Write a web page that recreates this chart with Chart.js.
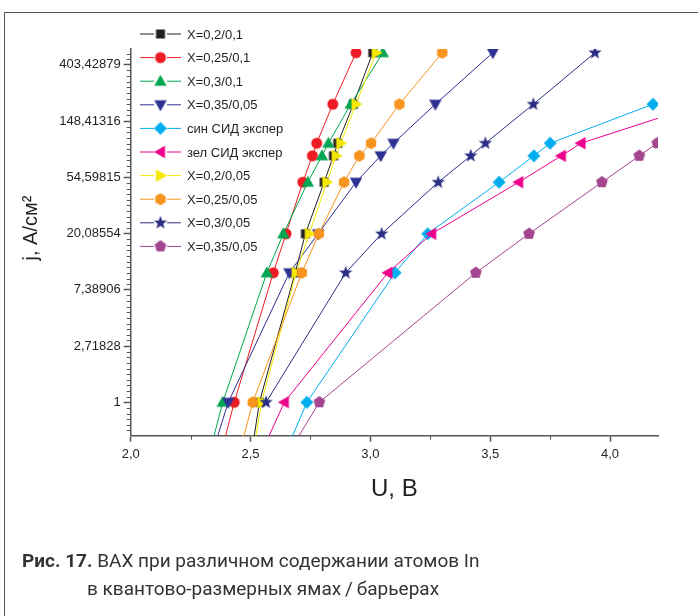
<!DOCTYPE html>
<html>
<head>
<meta charset="utf-8">
<script src="https://cdn.jsdelivr.net/npm/chart.js@4.4.1/dist/chart.umd.min.js"></script>
<style>
    html, body { margin: 0; padding: 0; background: #fff; }
    #wrap { position: relative; width: 698px; height: 616px; overflow: hidden; }
    #frame { position: absolute; left: 4px; top: 12px; width: 720px; height: 720px; border-left: 1px solid #555; border-top: 1px solid #555; }
    #chartCanvas { position: absolute; left: 0; top: 0; }
    .caption { position: absolute; font-family: 'Liberation Sans Narrow', 'Roboto', sans-serif; font-size: 19px; color: #333; white-space: nowrap; }
</style>
</head>
<body>
<div id="wrap">
    <div id="frame"></div>
    <canvas id="chartCanvas" width="698" height="616"></canvas>
    <div class="caption" style="left:22px; top:549px;"><b>Рис. 17.</b> ВАХ при различном содержании атомов In</div>
    <div class="caption" style="left:87px; top:577px;">в квантово-размерных ямах&#8201;/&#8201;барьерах</div>
</div>
<script>
// j, A/cm2 levels
const jLevels = [0.5, 1, 10, 20, 50, 80, 100, 200, 500];
const jLevelsSin = [0.5, 1, 10, 20, 50, 80, 100, 200];
const jLevelsStar = [1, 10, 20, 50, 80, 100, 200, 500];
const jLevelsZel = [0.5, 1, 10, 20, 50, 80, 100, 200];
const jLevelsPurple = [0.5, 1, 10, 20, 50, 80, 100, 200];

// U, B for each series
const u02_01 = [2.512, 2.537, 2.686, 2.729, 2.807, 2.846, 2.864, 2.929, 3.010];
const u025_01 = [2.390, 2.432, 2.595, 2.648, 2.718, 2.758, 2.776, 2.843, 2.940];
const u03_01 = [2.342, 2.384, 2.568, 2.637, 2.739, 2.798, 2.825, 2.918, 3.052];
const u035_005a = [2.356, 2.407, 2.662, 2.782, 2.940, 3.043, 3.096, 3.271, 3.511];
const uSin = [2.666, 2.735, 3.103, 3.239, 3.537, 3.682, 3.750, 4.179];
const uZel = [2.567, 2.641, 3.073, 3.256, 3.619, 3.797, 3.879, 4.380];
const u02_005 = [2.519, 2.546, 2.690, 2.745, 2.818, 2.857, 2.876, 2.940, 3.024];
const u025_005 = [2.467, 2.509, 2.714, 2.785, 2.890, 2.954, 3.003, 3.121, 3.300];
const u03_005 = [2.565, 2.897, 3.047, 3.283, 3.419, 3.480, 3.680, 3.937];
const u035_005b = [2.688, 2.787, 3.440, 3.662, 3.966, 4.122, 4.197, 4.430];

// axis ticks
const xTickValues = [2.0, 2.5, 3.0, 3.5, 4.0];
const xTickLabels = ['2,0', '2,5', '3,0', '3,5', '4,0'];
const yTickPowers = [0, 1, 2, 3, 4, 5, 6];
const yTickLabels = ['1', '2,71828', '7,38906', '20,08554', '54,59815', '148,41316', '403,42879'];

const FONT = "'Liberation Sans', Arial, sans-serif";

const series = [
    { label: 'X=0,2/0,1', u: u02_01, j: jLevels, color: '#231f20', shape: 'square' },
    { label: 'X=0,25/0,1', u: u025_01, j: jLevels, color: '#ed1c24', shape: 'circle' },
    { label: 'X=0,3/0,1', u: u03_01, j: jLevels, color: '#00a651', shape: 'triUp' },
    { label: 'X=0,35/0,05', u: u035_005a, j: jLevels, color: '#2e3192', shape: 'triDown' },
    { label: 'син СИД экспер', u: uSin, j: jLevelsSin, color: '#00aeef', shape: 'diamond' },
    { label: 'зел СИД экспер', u: uZel, j: jLevelsZel, color: '#ec008c', shape: 'triLeft' },
    { label: 'X=0,2/0,05', u: u02_005, j: jLevels, color: '#f5e800', shape: 'triRight' },
    { label: 'X=0,25/0,05', u: u025_005, j: jLevels, color: '#f7941d', shape: 'hexagon' },
    { label: 'X=0,3/0,05', u: u03_005, j: jLevelsStar, color: '#2b2e83', shape: 'star' },
    { label: 'X=0,35/0,05', u: u035_005b, j: jLevelsPurple, color: '#a3458f', shape: 'pentagon' },
];

function makeMarker(shape, color) {
    const c = document.createElement('canvas');
    c.width = 16;
    c.height = 16;
    const g = c.getContext('2d');
    g.fillStyle = color;
    g.translate(8, 8);
    g.beginPath();
    const poly = (n, r, start) => {
        for (let i = 0; i < n; i++) {
            const a = start + i * 2 * Math.PI / n;
            if (i === 0) g.moveTo(r * Math.cos(a), r * Math.sin(a));
            else g.lineTo(r * Math.cos(a), r * Math.sin(a));
        }
        g.closePath();
    };
    if (shape === 'square') {
        g.rect(-4.5, -4.5, 9, 9);
    } else if (shape === 'circle') {
        g.arc(0, 0, 5.5, 0, Math.PI * 2);
    } else if (shape.startsWith('tri')) {
        const rot = { triUp: 0, triDown: Math.PI, triLeft: -Math.PI / 2, triRight: Math.PI / 2 }[shape];
        g.rotate(rot);
        g.moveTo(0, -6.5);
        g.lineTo(6.2, 4.5);
        g.lineTo(-6.2, 4.5);
        g.closePath();
    } else if (shape === 'diamond') {
        poly(4, 6.5, -Math.PI / 2);
    } else if (shape === 'hexagon') {
        poly(6, 6, -Math.PI / 2);
    } else if (shape === 'pentagon') {
        poly(5, 6.2, -Math.PI / 2);
    } else if (shape === 'star') {
        for (let i = 0; i < 10; i++) {
            const r = i % 2 === 0 ? 7 : 2.9;
            const a = -Math.PI / 2 + i * Math.PI / 5;
            if (i === 0) g.moveTo(r * Math.cos(a), r * Math.sin(a));
            else g.lineTo(r * Math.cos(a), r * Math.sin(a));
        }
        g.closePath();
    }
    g.fill();
    return c;
}

series.forEach(s => { s.marker = makeMarker(s.shape, s.color); });

const datasets = series.map((s, i) => ({
    label: s.label,
    data: s.u.map((u, k) => ({ x: u, y: s.j[k] })),
    showLine: true,
    borderColor: s.color,
    backgroundColor: s.color,
    borderWidth: 1,
    tension: 0,
    pointStyle: s.marker,
    pointRadius: 6,
    order: series.length - i,
}));

// small ticks between the labelled ones
const minorTicks = {
    id: 'minorTicks',
    afterDraw(chart) {
        const { ctx, chartArea, scales: { x, y } } = chart;
        ctx.save();
        ctx.strokeStyle = '#555';
        ctx.lineWidth = 1;
        ctx.beginPath();
        for (let k = -5; k <= 62; k++) {
            if (k % 10 === 0) continue;
            const v = Math.exp(k / 10);
            if (v < y.min || v > y.max) continue;
            const py = Math.round(y.getPixelForValue(v)) + 0.5;
            ctx.moveTo(chartArea.left - 4, py);
            ctx.lineTo(chartArea.left, py);
        }
        [2.25, 2.75, 3.25, 3.75].forEach(v => {
            const px = Math.round(x.getPixelForValue(v)) + 0.5;
            ctx.moveTo(px, chartArea.bottom);
            ctx.lineTo(px, chartArea.bottom + 4);
        });
        ctx.stroke();

        // y title, sits a bit above the axis middle
        ctx.translate(31, 228);
        ctx.rotate(-Math.PI / 2);
        ctx.font = '20px ' + FONT;
        ctx.fillStyle = '#231f20';
        ctx.textAlign = 'center';
        ctx.textBaseline = 'middle';
        ctx.fillText('j, A/см²', 0, 0);
        ctx.restore();
    },
};

// legend box in the upper left, Origin style
const insideLegend = {
    id: 'insideLegend',
    afterDraw(chart) {
        const ctx = chart.ctx;
        ctx.save();
        ctx.font = '13px ' + FONT;
        ctx.textBaseline = 'middle';
        series.forEach((s, i) => {
            const yy = 34 + i * 23.6;
            ctx.strokeStyle = s.color;
            ctx.lineWidth = 1;
            ctx.beginPath();
            ctx.moveTo(140, yy);
            ctx.lineTo(154, yy);
            ctx.moveTo(167, yy);
            ctx.lineTo(181, yy);
            ctx.stroke();
            ctx.drawImage(s.marker, 160.5 - 8, yy - 8);
            ctx.fillStyle = '#231f20';
            ctx.fillText(s.label, 187, yy + 1);
        });
        ctx.restore();
    },
};

const cha = document.getElementById('chartCanvas').getContext('2d');
new Chart(cha, {
    type: 'scatter',
    data: { datasets: datasets },
    options: {
        responsive: false,
        animation: false,
        events: [],
        layout: { padding: { left: 0, top: 49, right: 40, bottom: 0 } },
        plugins: {
            legend: { display: false },
            tooltip: { enabled: false },
        },
        scales: {
            x: {
                type: 'linear',
                min: 2,
                max: 4.2,
                afterBuildTicks: (s) => { s.ticks = xTickValues.map(v => ({ value: v })); },
                afterFit: (s) => { s.height = 616 - 435.7; },
                ticks: {
                    callback: (v, i) => xTickLabels[i],
                    font: { family: FONT, size: 13 },
                    color: '#231f20',
                    padding: 5,
                    maxRotation: 0,
                    autoSkip: false,
                },
                grid: { drawOnChartArea: false, drawTicks: true, tickLength: 6, tickColor: '#555', tickWidth: 1.5 },
                border: { color: '#555', width: 1.5 },
                title: {
                    display: true,
                    text: 'U, B',
                    font: { family: FONT, size: 24 },
                    color: '#231f20',
                    padding: { top: 0, bottom: 112 },
                },
            },
            y: {
                type: 'logarithmic',
                min: 0.552,
                max: 534,
                bounds: 'data',
                afterBuildTicks: (s) => { s.ticks = yTickPowers.map(k => ({ value: Math.exp(k) })); },
                afterFit: (s) => { s.width = 130.7; },
                ticks: {
                    callback: (v, i) => yTickLabels[i],
                    font: { family: FONT, size: 13 },
                    color: '#231f20',
                    padding: 3,
                    autoSkip: false,
                },
                grid: { drawOnChartArea: false, drawTicks: true, tickLength: 7, tickColor: '#555', tickWidth: 1.5 },
                border: { color: '#555', width: 1.5 },
                title: { display: false },
            },
        },
    },
    plugins: [minorTicks, insideLegend],
});
</script>
</body>
</html>
